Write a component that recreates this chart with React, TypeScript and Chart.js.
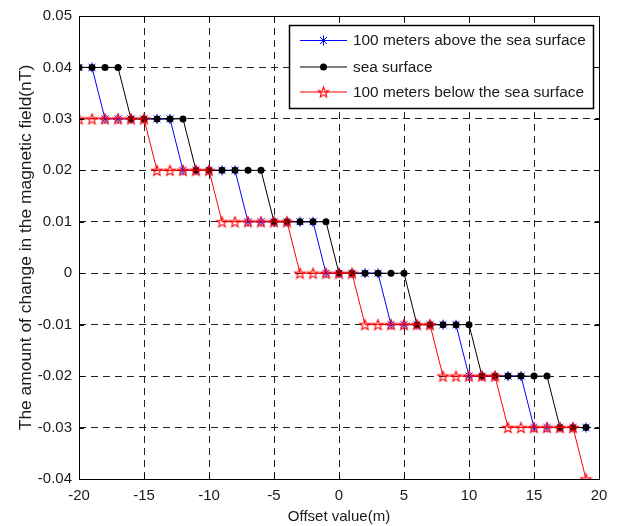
import React, { useEffect, useRef } from 'react';
import { Chart, registerables } from 'chart.js';

Chart.register(...registerables);

const offsets = [-20, -19, -18, -17, -16, -15, -14, -13, -12, -11, -10, -9, -8, -7, -6, -5, -4, -3, -2, -1, 0, 1, 2, 3, 4, 5, 6, 7, 8, 9, 10, 11, 12, 13, 14, 15, 16, 17, 18, 19];

const aboveSurface = [0.04, 0.04, 0.03, 0.03, 0.03, 0.03, 0.03, 0.03, 0.02, 0.02, 0.02, 0.02, 0.02, 0.01, 0.01, 0.01, 0.01, 0.01, 0.01, 0, 0, 0, 0, 0, -0.01, -0.01, -0.01, -0.01, -0.01, -0.01, -0.02, -0.02, -0.02, -0.02, -0.02, -0.03, -0.03, -0.03, -0.03, -0.03];

const seaSurface = [0.04, 0.04, 0.04, 0.04, 0.03, 0.03, 0.03, 0.03, 0.03, 0.02, 0.02, 0.02, 0.02, 0.02, 0.02, 0.01, 0.01, 0.01, 0.01, 0.01, 0, 0, 0, 0, 0, 0, -0.01, -0.01, -0.01, -0.01, -0.01, -0.02, -0.02, -0.02, -0.02, -0.02, -0.02, -0.03, -0.03, -0.03];

const belowSurface = [0.03, 0.03, 0.03, 0.03, 0.03, 0.03, 0.02, 0.02, 0.02, 0.02, 0.02, 0.01, 0.01, 0.01, 0.01, 0.01, 0.01, 0, 0, 0, 0, 0, -0.01, -0.01, -0.01, -0.01, -0.01, -0.01, -0.02, -0.02, -0.02, -0.02, -0.02, -0.03, -0.03, -0.03, -0.03, -0.03, -0.03, -0.04];

const seriesLabels = ['100 meters above the sea surface', 'sea surface', '100 meters below the sea surface'];
const xTickValues = [-20, -15, -10, -5, 0, 5, 10, 15, 20];
const yTickValues = [-0.04, -0.03, -0.02, -0.01, 0, 0.01, 0.02, 0.03, 0.04, 0.05];

const FONT = '"Liberation Sans", Arial, sans-serif';

function makePentagram(r: number, color: string): HTMLCanvasElement {
  const size = Math.ceil(2 * r + 4);
  const c = document.createElement('canvas');
  c.width = size;
  c.height = size;
  const ctx = c.getContext('2d')!;
  const cx = size / 2;
  const cy = size / 2 + 0.5;
  const inner = r * 0.42;
  ctx.beginPath();
  for (let i = 0; i < 10; i++) {
    const rad = i % 2 === 0 ? r : inner;
    const a = -Math.PI / 2 + (i * Math.PI) / 5;
    const x = cx + rad * Math.cos(a);
    const y = cy + rad * Math.sin(a);
    if (i === 0) ctx.moveTo(x, y);
    else ctx.lineTo(x, y);
  }
  ctx.closePath();
  ctx.strokeStyle = color;
  ctx.lineWidth = 1.1;
  ctx.stroke();
  return c;
}

export default function App() {
  const ref = useRef<HTMLCanvasElement | null>(null);

  useEffect(() => {
    const canvas = ref.current;
    if (!canvas) return;
    const pentagram = makePentagram(5.5, '#ff0000');

    const toPts = (ys: number[]) => offsets.map((x, i) => ({ x, y: ys[i] }));

    const framePlugin = {
      id: 'frameAndLegend',
      afterDraw(chart: any) {
        const { ctx, chartArea } = chart;
        const { left, top, right, bottom } = chartArea;
        const xs = chart.scales.x;
        const ys = chart.scales.y;
        ctx.save();
        ctx.strokeStyle = '#000';
        ctx.lineWidth = 1;
        ctx.setLineDash([]);
        ctx.strokeRect(Math.round(left) + 0.5, Math.round(top) + 0.5, Math.round(right - left), Math.round(bottom - top));
        const tl = 5;
        ctx.beginPath();
        xTickValues.forEach((v) => {
          const px = Math.round(xs.getPixelForValue(v)) + 0.5;
          ctx.moveTo(px, bottom);
          ctx.lineTo(px, bottom - tl);
          ctx.moveTo(px, top);
          ctx.lineTo(px, top + tl);
        });
        yTickValues.forEach((v) => {
          const py = Math.round(ys.getPixelForValue(v)) + 0.5;
          ctx.moveTo(left, py);
          ctx.lineTo(left + tl, py);
          ctx.moveTo(right, py);
          ctx.lineTo(right - tl, py);
        });
        ctx.stroke();

        // legend
        const bx = 289.5, by = 25.5, bw = 304, bh = 83;
        ctx.fillStyle = '#fff';
        ctx.fillRect(bx, by, bw, bh);
        ctx.lineWidth = 1.5;
        ctx.strokeStyle = '#000';
        ctx.strokeRect(bx, by, bw, bh);
        const rows = [40, 66.5, 91.5];
        const colors = ['#0000ff', '#000000', '#ff0000'];
        ctx.font = '15.4px ' + FONT;
        ctx.textBaseline = 'middle';
        rows.forEach((ry, i) => {
          ctx.lineWidth = 1;
          ctx.strokeStyle = colors[i];
          ctx.beginPath();
          ctx.moveTo(300, ry + 0.5);
          ctx.lineTo(347, ry + 0.5);
          ctx.stroke();
          const mx = 323.5;
          const my = ry + 0.5;
          if (i === 0) {
            const r = 5;
            ctx.beginPath();
            ctx.moveTo(mx - r, my); ctx.lineTo(mx + r, my);
            ctx.moveTo(mx, my - r); ctx.lineTo(mx, my + r);
            const d = r * 0.707;
            ctx.moveTo(mx - d, my - d); ctx.lineTo(mx + d, my + d);
            ctx.moveTo(mx - d, my + d); ctx.lineTo(mx + d, my - d);
            ctx.stroke();
          } else if (i === 1) {
            ctx.fillStyle = '#000';
            ctx.beginPath();
            ctx.arc(mx, my, 3.5, 0, Math.PI * 2);
            ctx.fill();
          } else {
            ctx.drawImage(pentagram, mx - pentagram.width / 2, my - pentagram.height / 2);
          }
          ctx.fillStyle = '#1a1a1a';
          ctx.textAlign = 'left';
          ctx.fillText(seriesLabels[i], 353, ry + 1);
        });
        ctx.restore();
      },
    };

    const chart = new Chart(canvas, {
      type: 'line',
      data: {
        datasets: [
          {
            label: seriesLabels[0],
            data: toPts(aboveSurface),
            borderColor: '#0000ff',
            borderWidth: 1,
            pointStyle: 'star',
            pointRadius: 5,
            pointBorderColor: '#0000ff',
            pointBackgroundColor: '#0000ff',
            pointBorderWidth: 1,
            tension: 0,
            order: 3,
          },
          {
            label: seriesLabels[1],
            data: toPts(seaSurface),
            borderColor: '#000000',
            borderWidth: 1,
            pointStyle: 'circle',
            pointRadius: 3.5,
            pointBorderColor: '#000000',
            pointBackgroundColor: '#000000',
            pointBorderWidth: 0,
            tension: 0,
            order: 2,
          },
          {
            label: seriesLabels[2],
            data: toPts(belowSurface),
            borderColor: '#ff0000',
            borderWidth: 1,
            pointStyle: pentagram,
            pointRadius: 5.5,
            pointBorderColor: '#ff0000',
            tension: 0,
            order: 1,
          },
        ],
      },
      options: {
        animation: false,
        responsive: false,
        devicePixelRatio: 1,
        layout: { padding: { left: 0, top: 15, right: 18, bottom: 0 } },
        plugins: {
          legend: { display: false },
          tooltip: { enabled: false },
        },
        scales: {
          x: {
            type: 'linear',
            min: -20,
            max: 20,
            afterFit: (s: any) => { s.height = 47; },
            afterBuildTicks: (s: any) => { s.ticks = xTickValues.map((v) => ({ value: v })); },
            ticks: {
              color: '#1a1a1a',
              font: { family: FONT, size: 15 },
              padding: 8,
              maxRotation: 0,
              autoSkip: false,
              callback: (v: any) => String(v),
            },
            grid: { color: '#222', lineWidth: 1, drawTicks: false },
            border: { display: false, dash: [7, 5] },
            title: {
              display: true,
              text: 'Offset value(m)',
              color: '#1a1a1a',
              font: { family: FONT, size: 15 },
              padding: { top: 0, bottom: 0 },
            },
          },
          y: {
            type: 'linear',
            min: -0.04,
            max: 0.05,
            afterFit: (s: any) => { s.width = 79; },
            afterBuildTicks: (s: any) => { s.ticks = yTickValues.map((v) => ({ value: v })); },
            ticks: {
              color: '#1a1a1a',
              font: { family: FONT, size: 15 },
              padding: 7,
              autoSkip: false,
              callback: (v: any) => String(Number(Number(v).toFixed(2))),
            },
            grid: { color: '#222', lineWidth: 1, drawTicks: false },
            border: { display: false, dash: [7, 5] },
            title: {
              display: true,
              text: 'The amount of change in the magnetic field(nT)',
              color: '#1a1a1a',
              font: { family: FONT, size: 17.4 },
              padding: { top: 15.5, bottom: 0 },
            },
          },
        },
      },
      plugins: [framePlugin],
    } as any);

    return () => chart.destroy();
  }, []);

  return (
    <div style={{ position: 'absolute', left: 0, top: 0, width: 617, height: 526, background: '#fff' }}>
      <canvas ref={ref} width={617} height={526} style={{ width: 617, height: 526, display: 'block' }} />
    </div>
  );
}
